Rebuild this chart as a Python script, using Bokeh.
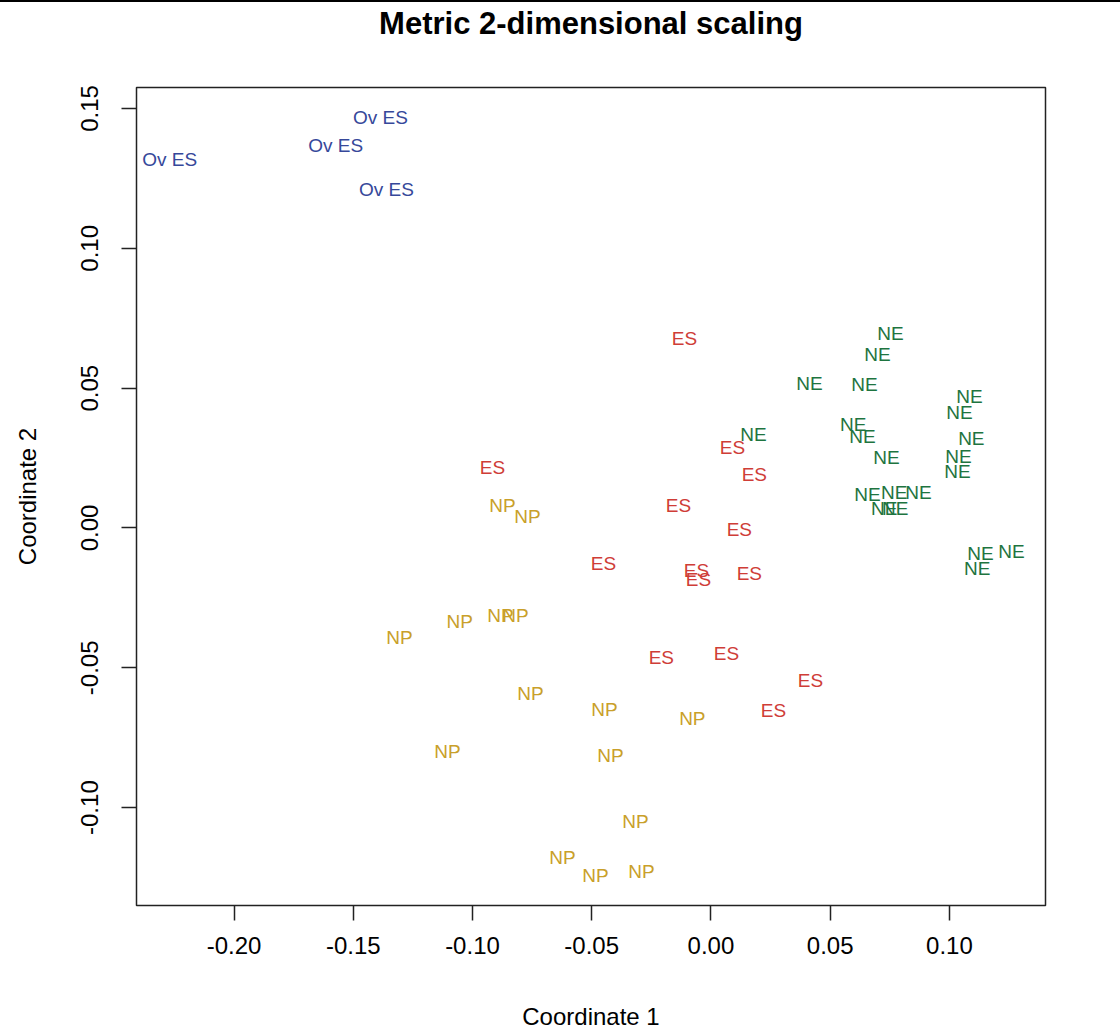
from bokeh.plotting import figure
from bokeh.models import Range1d, FixedTicker, NumeralTickFormatter, Title, ColumnDataSource, Div
from bokeh.layouts import column
from bokeh.core.properties import value
from bokeh.embed import file_html
from bokeh.resources import INLINE

# ---- data ----
ov_x = [-0.2270, -0.1574, -0.1386, -0.1361]
ov_y = [0.1318, 0.1367, 0.1468, 0.1210]

es_x = [-0.0111, -0.0916, 0.0090, 0.0182, -0.0136, 0.0119, -0.0451, -0.0061,
        -0.0052, 0.0161, -0.0208, 0.0065, 0.0417, 0.0262]
es_y = [0.0678, 0.0216, 0.0287, 0.0191, 0.0080, -0.0005, -0.0127, -0.0151,
        -0.0184, -0.0163, -0.0463, -0.0449, -0.0546, -0.0653]

ne_x = [0.0753, 0.0698, 0.0413, 0.0644, 0.1084, 0.1042, 0.0178, 0.0597, 0.0635,
        0.1092, 0.0736, 0.1038, 0.1034, 0.0656, 0.0769, 0.0870, 0.0727, 0.0773,
        0.1130, 0.1260, 0.1117]
ne_y = [0.0696, 0.0621, 0.0517, 0.0513, 0.0470, 0.0413, 0.0334, 0.0370, 0.0327,
        0.0320, 0.0252, 0.0255, 0.0202, 0.0120, 0.0127, 0.0127, 0.0070, 0.0070,
        -0.0091, -0.0084, -0.0145]

np_x = [-0.0874, -0.0769, -0.1306, -0.1054, -0.0883, -0.0820, -0.0757, -0.0447,
        -0.0078, -0.1105, -0.0421, -0.0317, -0.0623, -0.0484, -0.0291]
np_y = [0.0080, 0.0041, -0.0393, -0.0336, -0.0314, -0.0314, -0.0592, -0.0649,
        -0.0682, -0.0800, -0.0814, -0.1051, -0.1180, -0.1244, -0.1229]

groups = [
    ("Ov ES", ov_x, ov_y, "#36489A"),
    ("ES", es_x, es_y, "#CF3D37"),
    ("NE", ne_x, ne_y, "#1E7440"),
    ("NP", np_x, np_y, "#C9A02A"),
]

x_ticks = [-0.20, -0.15, -0.10, -0.05, 0.00, 0.05, 0.10]
y_ticks = [-0.10, -0.05, 0.00, 0.05, 0.10, 0.15]
title_text = "Metric 2-dimensional scaling"

FONT = "Liberation Sans"
X0, X1 = -0.2409, 0.1403
Y0, Y1 = -0.1350, 0.1575

p = figure(width=1120, height=1032, output_backend="svg", toolbar_location=None,
           x_range=Range1d(X0, X1), y_range=Range1d(Y0, Y1),
           min_border_left=136, min_border_right=75, min_border_top=85,
           min_border_bottom=129, margin=0, title=None)

for name, xs, ys, col in groups:
    src = ColumnDataSource(dict(x=xs, y=ys, t=[name] * len(xs)))
    p.text(x="x", y="y", text="t", source=src, text_color=col,
           text_font=value(FONT), text_font_size="19px",
           text_align="center", text_baseline="middle")

# spacer panel (white, invisible) next to the frame, real title above it
spacer = Title(text=" ", text_font=FONT, text_font_size="10px", standoff=34,
               text_color="white")
p.add_layout(spacer, "above")
p.add_layout(Title(text=title_text, align="center", text_font=FONT,
                   text_font_size="31px", text_font_style="bold",
                   text_color="black", standoff=0), "above")

p.xgrid.visible = False
p.ygrid.visible = False
p.outline_line_color = "#222222"
p.outline_line_width = 1.5
p.background_fill_color = "white"
p.border_fill_color = "white"

for ax in (p.xaxis[0], p.yaxis[0]):
    ax.axis_line_color = None
    ax.major_tick_in = 0
    ax.major_tick_out = 15
    ax.major_tick_line_color = "#222222"
    ax.major_tick_line_width = 1.5
    ax.minor_tick_line_color = None
    ax.major_label_text_font = FONT
    ax.major_label_text_font_size = "24px"
    ax.major_label_text_color = "black"
    ax.axis_label_text_font = FONT
    ax.axis_label_text_font_size = "24px"
    ax.axis_label_text_font_style = "normal"
    ax.axis_label_text_color = "black"
    ax.formatter = NumeralTickFormatter(format="0.00")

p.xaxis[0].ticker = FixedTicker(ticks=x_ticks)
p.yaxis[0].ticker = FixedTicker(ticks=y_ticks)
p.xaxis[0].axis_label = "Coordinate 1"
p.yaxis[0].axis_label = "Coordinate 2"
p.xaxis[0].major_label_standoff = 16
p.xaxis[0].axis_label_standoff = 46
p.yaxis[0].major_label_orientation = "vertical"
p.yaxis[0].major_label_standoff = 23
p.yaxis[0].axis_label_standoff = 38

bar = Div(text="", width=1120, height=2, margin=0,
          styles={"background-color": "black"})

layout = column(bar, p, spacing=0, margin=0)

open("out.html", "w").write(file_html(layout, INLINE))
